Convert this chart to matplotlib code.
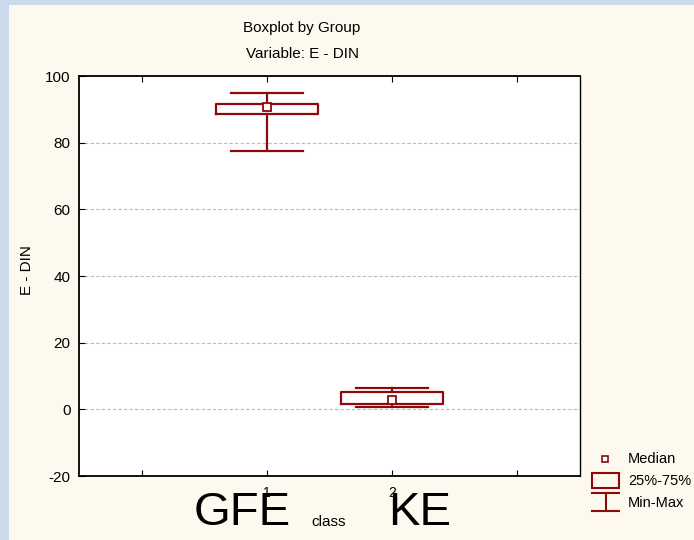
import matplotlib.pyplot as plt
from matplotlib.lines import Line2D
from matplotlib.patches import Rectangle

plt.rcParams['font.family'] = ['Liberation Sans', 'DejaVu Sans']
plt.rcParams['axes.unicode_minus'] = False

# summary statistics per group
groups = ['GFE', 'KE']
positions = [1, 2]
mins = [77.5, 0.7]
q1s = [88.5, 1.6]
medians = [90.6, 2.8]
q3s = [91.7, 5.3]
maxs = [95.0, 6.4]

yticks = [-20, 0, 20, 40, 60, 80, 100]
xticks = [0, 1, 2, 3]
xticklabels = ['', '1', '2', '']

red = '#8c0a0a'
W, H = 694, 540


def fx(px):
    return px / W


def fy(py):
    return 1 - py / H


fig = plt.figure(figsize=(W / 100, H / 100), dpi=100, facecolor='#cddaee')
fig.patches.append(Rectangle((fx(9), 0), 1 - fx(9), fy(5), transform=fig.transFigure,
                             facecolor='#fef9ee', edgecolor='none', zorder=-10))

ax = fig.add_axes([fx(79), fy(476), fx(580) - fx(79), fy(76) - fy(476)])
ax.set_facecolor('white')

stats = []
for g, lo, a, m, b, hi in zip(groups, mins, q1s, medians, q3s, maxs):
    stats.append(dict(label=g, whislo=lo, q1=a, med=m, q3=b, whishi=hi, fliers=[]))

ax.bxp(stats, positions=positions, widths=0.82, capwidths=0.58, showfliers=False,
       boxprops=dict(color=red, linewidth=1.6),
       whiskerprops=dict(color=red, linewidth=1.6),
       capprops=dict(color=red, linewidth=1.6),
       medianprops=dict(linewidth=0))
ax.plot(positions, medians, 's', ms=6, mfc='white', mec=red, mew=1.3, zorder=5)

ax.set_xlim(-0.5, 3.5)
ax.set_ylim(-20, 100)
ax.set_yticks(yticks)
ax.set_xticks(xticks)
ax.set_xticklabels(xticklabels)
ax.tick_params(axis='y', direction='in', length=4, labelsize=11, pad=6)
ax.tick_params(axis='x', direction='in', length=4, labelsize=10, pad=7, top=True)
ax.yaxis.grid(True, linestyle=(0, (3, 2)), color='#bbbbbb', linewidth=0.8)
ax.set_axisbelow(True)
for s in ax.spines.values():
    s.set_linewidth(1.3)
ax.spines['right'].set_linewidth(1.0)

# titles and axis labels
fig.text(fx(302), fy(28), 'Boxplot by Group', ha='center', va='center', fontsize=11)
fig.text(fx(302), fy(54), 'Variable: E - DIN', ha='center', va='center', fontsize=11)
fig.text(fx(27), fy(270), 'E - DIN', rotation=90, ha='center', va='center', fontsize=11)
fig.text(fx(329), fy(522), 'class', ha='center', va='center', fontsize=11)

# large group names under the axis
fig.text(fx(291), fy(525), groups[0], ha='right', va='baseline', fontsize=34)
fig.text(fx(388), fy(525), groups[1], ha='left', va='baseline', fontsize=34)

# legend
fig.add_artist(Line2D([fx(605)], [fy(459)], marker='s', ms=5, mfc='white', mec=red,
                      mew=1.2, linestyle='none'))
fig.text(fx(628), fy(459), 'Median', va='center', fontsize=10.5)
fig.add_artist(Rectangle((fx(592), fy(488)), fx(619) - fx(592), fy(473) - fy(488),
                         transform=fig.transFigure, fill=False, edgecolor=red, linewidth=1.5))
fig.text(fx(628), fy(481), '25%-75%', va='center', fontsize=10.5)
for yy in (493, 511):
    fig.add_artist(Line2D([fx(592), fx(619)], [fy(yy), fy(yy)], color=red, linewidth=1.5))
fig.add_artist(Line2D([fx(605.5), fx(605.5)], [fy(493), fy(511)], color=red, linewidth=1.5))
fig.text(fx(628), fy(503), 'Min-Max', va='center', fontsize=10.5)

fig.savefig('out.png', dpi=100, facecolor=fig.get_facecolor())
